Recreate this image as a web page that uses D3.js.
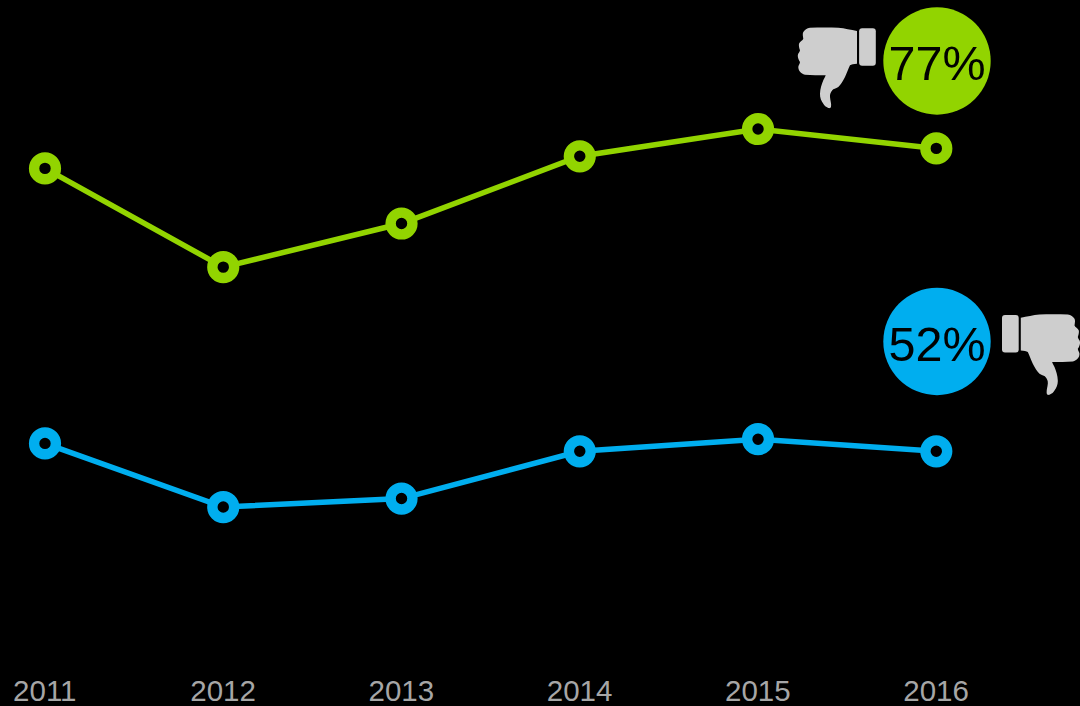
<!DOCTYPE html>
<html>
<head>
<meta charset="utf-8">
<script src="https://cdnjs.cloudflare.com/ajax/libs/d3/7.8.5/d3.min.js"></script>
<style>
  html, body { margin: 0; padding: 0; background: #000; overflow: hidden; }
  svg { display: block; }
  text { font-family: "Liberation Sans", Arial, sans-serif; }
</style>
</head>
<body>
<svg id="chart" width="1080" height="706"></svg>
<script>
// Yearly share of people giving a thumbs down, per series
const years = ["2011", "2012", "2013", "2014", "2015", "2016"];
const greenValues = [75.35, 67.2, 70.8, 76.35, 78.6, 77];
const blueValues = [52.65, 47.4, 48.1, 52, 53, 52];
const greenLabel = "77%";
const blueLabel = "52%";

const GREEN = "#92d400";
const BLUE = "#00aeef";
const ICON_GREY = "#cecece";

const svg = d3.select("#chart");

const x = d3.scalePoint().domain(years).range([45, 936.3]);
const y = d3.scaleLinear().domain([52, 77]).range([451.3, 148.4]);

// Year labels along the bottom, no axis line or tick marks
const axis = svg.append("g")
  .attr("transform", "translate(-0.7,674)")
  .attr("opacity", 0.99)
  .call(d3.axisBottom(x).tickSize(0).tickPadding(0));
axis.select(".domain").remove();
axis.selectAll("text")
  .attr("dy", 0)
  .attr("y", 27)
  .attr("fill", "#a8a8a8")
  .style("font-family", '"Liberation Sans", Arial, sans-serif')
  .style("font-size", "29.5px");

const line = d3.line().x((d, i) => x(years[i])).y(d => y(d));

function drawSeries(values, colour) {
  const g = svg.append("g");
  g.append("path")
    .datum(values)
    .attr("d", line)
    .attr("fill", "none")
    .attr("stroke", colour)
    .attr("stroke-width", 5.5);
  g.selectAll("circle")
    .data(values)
    .join("circle")
    .attr("cx", (d, i) => x(years[i]))
    .attr("cy", d => y(d))
    .attr("r", 10.9)
    .attr("fill", "#000")
    .attr("stroke", colour)
    .attr("stroke-width", 10.4);
}

drawSeries(greenValues, GREEN);
drawSeries(blueValues, BLUE);

// Round percentage badge
function drawBadge(cx, cy, colour, label) {
  svg.append("circle")
    .attr("cx", cx).attr("cy", cy).attr("r", 53.7)
    .attr("fill", colour);
  svg.append("text")
    .attr("x", cx).attr("y", cy + 19)
    .attr("text-anchor", "middle")
    .attr("fill", "#000")
    .attr("opacity", 0.99)
    .style("font-size", "48.5px")
    .text(label);
}

drawBadge(937, 61, GREEN, greenLabel);
drawBadge(937, 341.5, BLUE, blueLabel);

// Thumbs-down icon: hand outline plus cuff, with the cuff on the right
const handPath = "M12.2,0 C22,-0.3 32,-0.3 40.5,0 C47,0.6 53,2 59.2,3.3 L59.2,36 C56,36.3 53.5,36.6 52.2,37.6 C50.5,41 49,45.5 47.2,49.3 C45,53.5 43,57 40.5,59.3 C38,61 35.5,61 34.5,62.6 C32.5,65 32,67 32.2,69.3 C32.5,73 33.8,76 33.2,79.3 C32.5,80.5 31.5,80.6 30.5,80.3 C28,79 26.5,78 25.5,76 C23.5,73 22,70 22.2,66 C22.3,61 24,56.5 25.5,52.6 C26.5,50.5 27.5,49 27.9,47.6 C21,47.5 14,47.6 7.2,47 C3,46 0.5,43 0.5,39.3 C0.6,37.5 2.2,36 2.2,34.3 C1,32.5 -0.2,30 0,27.6 C0.2,25.5 2,24.5 2.2,22.6 C1.5,20.5 0.8,18 1.2,16 C2,13.5 5,13 5.5,11 C5.2,8.5 4.5,6.5 5.5,4.3 C7,2 9,0.3 12.2,0 Z";

function drawThumb(transform) {
  const g = svg.append("g").attr("transform", transform).attr("fill", ICON_GREY);
  g.append("path").attr("d", handPath);
  g.append("rect")
    .attr("x", 61.3).attr("y", 0.6)
    .attr("width", 16.7).attr("height", 37.4)
    .attr("rx", 3);
}

drawThumb("translate(797.8,27.7)");
drawThumb("translate(1080,314.5) scale(-1,1)");
</script>
</body>
</html>
